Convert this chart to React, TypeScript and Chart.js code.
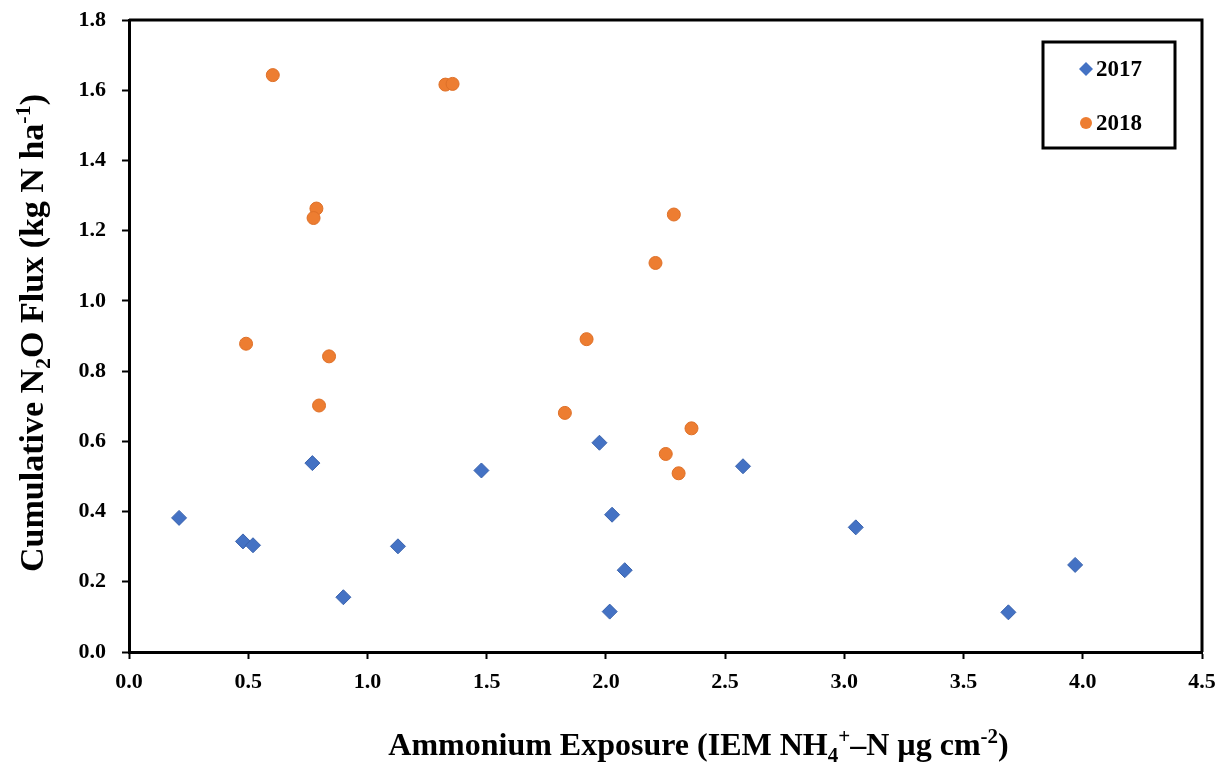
import React, { useEffect, useRef } from "react";
import { Chart, registerables } from "chart.js";

Chart.register(...registerables);

// ---- data ----
const seriesLabels = ["2017", "2018"];
const exposure2017 = [0.21, 0.478, 0.52, 0.769, 0.899, 1.128, 1.478, 1.973, 2.026, 2.079, 2.016, 2.575, 3.048, 3.688, 3.968];
const flux2017 = [0.382, 0.315, 0.304, 0.538, 0.156, 0.301, 0.517, 0.596, 0.391, 0.233, 0.115, 0.529, 0.355, 0.113, 0.248];
const exposure2018 = [0.603, 1.327, 1.357, 0.786, 0.774, 0.491, 0.839, 0.797, 2.285, 2.208, 1.919, 1.828, 2.359, 2.251, 2.305];
const flux2018 = [1.643, 1.616, 1.618, 1.263, 1.236, 0.878, 0.842, 0.702, 1.246, 1.108, 0.891, 0.681, 0.637, 0.564, 0.509];
const xTickValues = [0, 0.5, 1, 1.5, 2, 2.5, 3, 3.5, 4, 4.5];
const yTickValues = [0, 0.2, 0.4, 0.6, 0.8, 1, 1.2, 1.4, 1.6, 1.8];

type Seg = { t: string; m?: "sub" | "sup" };
const xTitleSegs: Seg[] = [
  { t: "Ammonium Exposure (IEM NH" },
  { t: "4", m: "sub" },
  { t: "+", m: "sup" },
  { t: "\u2013N \u00b5g cm" },
  { t: "-2", m: "sup" },
  { t: ")" },
];
const yTitleSegs: Seg[] = [
  { t: "Cumulative N" },
  { t: "2", m: "sub" },
  { t: "O Flux (kg N ha" },
  { t: "-1", m: "sup" },
  { t: ")" },
];

const BLUE = "#4472C4";
const ORANGE = "#ED7D31";
const FONT = "'Liberation Serif', 'Times New Roman', serif";

function drawRich(ctx: CanvasRenderingContext2D, segs: Seg[], size: number, cx: number, cy: number, rot: number) {
  ctx.save();
  ctx.translate(cx, cy);
  ctx.rotate(rot);
  ctx.fillStyle = "#000";
  ctx.textBaseline = "alphabetic";
  ctx.textAlign = "left";
  const small = Math.round(size * 0.65);
  const widths = segs.map((s) => {
    ctx.font = `bold ${s.m ? small : size}px ${FONT}`;
    return ctx.measureText(s.t).width;
  });
  const total = widths.reduce((a, b) => a + b, 0);
  let x = -total / 2;
  const base = size * 0.35;
  segs.forEach((s, i) => {
    ctx.font = `bold ${s.m ? small : size}px ${FONT}`;
    let y = base;
    if (s.m === "sub") y = base + size * 0.22;
    if (s.m === "sup") y = base - size * 0.38;
    ctx.fillText(s.t, x, y);
    x += widths[i];
  });
  ctx.restore();
}

const decorPlugin = {
  id: "decor",
  afterDraw(chart: any) {
    const { ctx, chartArea } = chart;
    const { left, right, top, bottom } = chartArea;
    ctx.save();
    // frame top and right
    ctx.strokeStyle = "#000";
    ctx.lineWidth = 3;
    ctx.beginPath();
    ctx.moveTo(left, top);
    ctx.lineTo(right, top);
    ctx.lineTo(right, bottom);
    ctx.stroke();

    // legend box
    const bx = right - 159;
    const by = top + 22;
    const bw = 132;
    const bh = 106;
    ctx.lineWidth = 3;
    ctx.strokeRect(bx, by, bw, bh);
    const ds = chart.data.datasets;
    const rows = [by + 27, by + 81];
    ds.forEach((d: any, i: number) => {
      const mx = bx + 43;
      const my = rows[i];
      ctx.fillStyle = d.backgroundColor;
      ctx.beginPath();
      if (d.pointStyle === "rectRot") {
        ctx.moveTo(mx - 7, my);
        ctx.lineTo(mx, my - 7);
        ctx.lineTo(mx + 7, my);
        ctx.lineTo(mx, my + 7);
        ctx.closePath();
      } else {
        ctx.arc(mx, my, 6, 0, Math.PI * 2);
      }
      ctx.fill();
      ctx.fillStyle = "#000";
      ctx.font = `bold 23px ${FONT}`;
      ctx.textBaseline = "middle";
      ctx.textAlign = "left";
      ctx.fillText(d.label, mx + 10, my + 1);
    });

    // axis titles
    drawRich(ctx, xTitleSegs, 32, (left + right) / 2 + 33, 744, 0);
    drawRich(ctx, yTitleSegs, 34, 31, (top + bottom) / 2 - 3, -Math.PI / 2);
    ctx.restore();
  },
};

export default function App() {
  const ref = useRef<HTMLCanvasElement | null>(null);
  useEffect(() => {
    document.body.style.margin = "0";
    const canvas = ref.current;
    if (!canvas) return;
    const tickFont = { family: FONT, size: 22, weight: "bold" as const };
    const chart = new Chart(canvas, {
      type: "scatter",
      data: {
        datasets: [
          {
            label: seriesLabels[0],
            data: exposure2017.map((x, i) => ({ x, y: flux2017[i] })),
            pointStyle: "rectRot",
            pointRadius: 7.5,
            backgroundColor: BLUE,
            borderColor: "#3A63AD",
            borderWidth: 1,
          },
          {
            label: seriesLabels[1],
            data: exposure2018.map((x, i) => ({ x, y: flux2018[i] })),
            pointStyle: "circle",
            pointRadius: 6.5,
            backgroundColor: ORANGE,
            borderColor: "#DE7028",
            borderWidth: 1,
          },
        ],
      },
      options: {
        responsive: false,
        animation: false,
        layout: { padding: { top: 20, right: 27, left: 0, bottom: 0 } },
        plugins: { legend: { display: false }, tooltip: { enabled: false } },
        scales: {
          x: {
            type: "linear",
            min: 0,
            max: 4.5,
            afterBuildTicks: (s: any) => {
              s.ticks = xTickValues.map((v) => ({ value: v }));
            },
            afterFit: (s: any) => {
              s.height = 114;
              s.paddingLeft = 0;
              s.paddingRight = 0;
            },
            ticks: {
              color: "#000",
              font: tickFont,
              padding: 10,
              callback: (v: any) => Number(v).toFixed(1),
            },
            grid: { drawOnChartArea: false, drawTicks: true, tickLength: 7, tickColor: "#000", tickWidth: 2 },
            border: { display: true, color: "#000", width: 3 },
          },
          y: {
            type: "linear",
            min: 0,
            max: 1.8,
            afterBuildTicks: (s: any) => {
              s.ticks = yTickValues.map((v) => ({ value: v }));
            },
            afterFit: (s: any) => {
              s.width = 129;
              s.paddingTop = 0;
              s.paddingBottom = 0;
            },
            ticks: {
              color: "#000",
              font: tickFont,
              padding: 16,
              callback: (v: any) => Number(v).toFixed(1),
            },
            grid: { drawOnChartArea: false, drawTicks: true, tickLength: 7, tickColor: "#000", tickWidth: 2 },
            border: { display: true, color: "#000", width: 3 },
          },
        },
      },
      plugins: [decorPlugin],
    });
    return () => chart.destroy();
  }, []);
  return (
    <div style={{ position: "absolute", left: 0, top: 0, width: 1229, height: 766, background: "#fff" }}>
      <canvas ref={ref} width={1229} height={766} style={{ width: 1229, height: 766 }} />
    </div>
  );
}
